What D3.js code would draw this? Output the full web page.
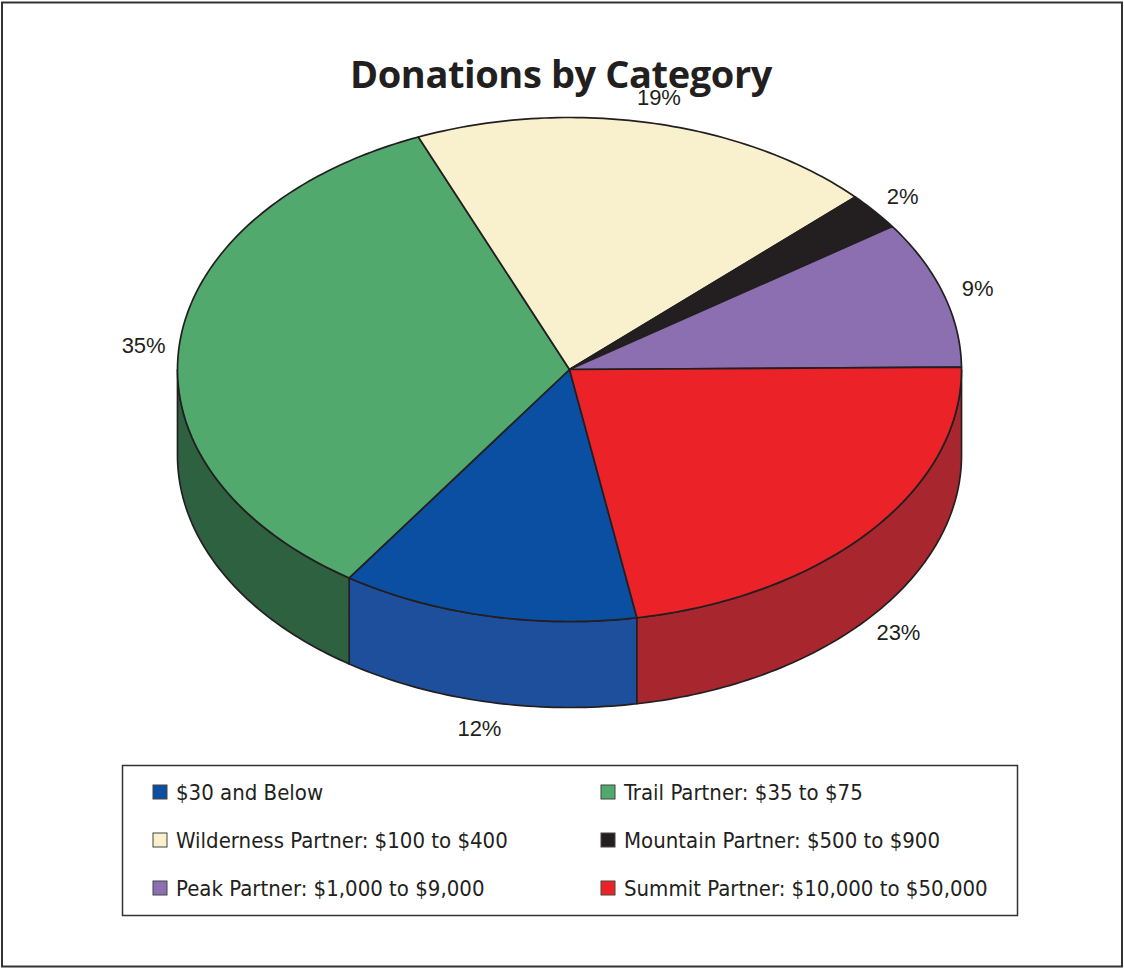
<!DOCTYPE html>
<html>
<head>
<meta charset="utf-8">
<script src="https://cdn.jsdelivr.net/npm/d3@7"></script>
<style>
  body { margin: 0; background: #fff; }
  svg { display: block; }
</style>
</head>
<body>
<div id="chart"></div>
<script>
const width = 1124
const height = 968

// data, in legend order
const categories = [
  '$30 and Below',
  'Trail Partner: $35 to $75',
  'Wilderness Partner: $100 to $400',
  'Mountain Partner: $500 to $900',
  'Peak Partner: $1,000 to $9,000',
  'Summit Partner: $10,000 to $50,000'
]
// printed percentages
const percents = [12, 35, 19, 2, 9, 23]
// slice sizes as drawn in the picture (the printed labels are rounded)
const sliceSizes = [12.25, 34.2, 19.3, 2.4, 9.45, 22.4]
const topColors = ['#0b4fa2', '#52a96d', '#f9f1cd', '#231f20', '#8b6fb1', '#ec2229']
const sideColors = ['#1d4f9c', '#2e6140', '#d9d2ad', '#111', '#6d5690', '#a8262e']

const cx = 569.5, cy = 369.5
const rx = 392, ry = 252
const depth = 86

const svg = d3.select('#chart').append('svg')
  .attr('width', width)
  .attr('height', height)

// frame
svg.append('rect')
  .attr('x', 2).attr('y', 2.5)
  .attr('width', 1120).attr('height', 964)
  .attr('fill', 'none')
  .attr('stroke', '#333')
  .attr('stroke-width', 2)

svg.append('text')
  .attr('x', 561).attr('y', 88)
  .attr('text-anchor', 'middle')
  .style('font-family', '"Open Sans", sans-serif')
  .style('font-weight', 700)
  .style('font-size', '38px')
  .style('letter-spacing', '-0.4px')
  .attr('fill', '#231f20')
  .text('Donations by Category')

// pie angles (d3 measures clockwise from 12 o'clock)
const start = 170.1 * Math.PI / 180
const pie = d3.pie().sort(null)
  .startAngle(start)
  .endAngle(start + 2 * Math.PI)
const arcs = pie(sliceSizes)

// parametric ellipse angle, clockwise from 3 o'clock
const px = a => cx + rx * Math.cos(a - Math.PI / 2)
const py = a => cy + ry * Math.sin(a - Math.PI / 2)

function ellipseArc (a0, a1, dy, steps) {
  const pts = []
  for (let i = 0; i <= steps; i++) {
    const a = a0 + (a1 - a0) * i / steps
    pts.push([px(a), py(a) + dy])
  }
  return pts
}

const line = d3.line()
const g = svg.append('g')
  .attr('stroke', '#231f20')
  .attr('stroke-width', 1.7)
  .attr('stroke-linejoin', 'round')

// side walls, only on the front half of the ellipse
arcs.forEach((d, i) => {
  const segs = []
  for (let k = -1; k <= 2; k++) {
    const lo = Math.PI / 2 + k * 2 * Math.PI
    const hi = 3 * Math.PI / 2 + k * 2 * Math.PI
    const a0 = Math.max(d.startAngle, lo)
    const a1 = Math.min(d.endAngle, hi)
    if (a1 > a0) segs.push([a0, a1])
  }
  segs.forEach(([a0, a1]) => {
    const n = Math.max(4, Math.ceil((a1 - a0) * 60))
    const top = ellipseArc(a0, a1, 0, n)
    const bot = ellipseArc(a1, a0, depth, n)
    g.append('path')
      .attr('d', line(top.concat(bot)) + 'Z')
      .attr('fill', sideColors[i])
  })
})

// top faces
arcs.forEach((d, i) => {
  const n = Math.max(4, Math.ceil((d.endAngle - d.startAngle) * 60))
  const pts = [[cx, cy]].concat(ellipseArc(d.startAngle, d.endAngle, 0, n))
  g.append('path')
    .attr('d', line(pts) + 'Z')
    .attr('fill', topColors[i])
})

// percentage labels
const offX = 36, offY = 30
svg.append('g').selectAll('text')
  .data(arcs)
  .join('text')
  .attr('x', d => {
    const a = (d.startAngle + d.endAngle) / 2 - Math.PI / 2
    return cx + (rx + offX) * Math.cos(a)
  })
  .attr('y', d => {
    const a = (d.startAngle + d.endAngle) / 2 - Math.PI / 2
    const s = Math.sin(a)
    return cy + 4 + (ry + offY) * s + (s > 0 ? depth - 7 : 0)
  })
  .attr('text-anchor', 'middle')
  .attr('dominant-baseline', 'central')
  .style('font-family', '"Liberation Sans", Arial, sans-serif')
  .style('font-size', '22px')
  .attr('fill', '#231f20')
  .text((d, i) => percents[i] + '%')

// legend
svg.append('rect')
  .attr('x', 122.5).attr('y', 765.5)
  .attr('width', 895).attr('height', 150)
  .attr('fill', 'none')
  .attr('stroke', '#333')
  .attr('stroke-width', 1.5)

const legend = svg.append('g').selectAll('g')
  .data(categories)
  .join('g')
  .attr('transform', (d, i) => `translate(${i % 2 ? 601 : 153},${792 + Math.floor(i / 2) * 48})`)

legend.append('rect')
  .attr('x', 0).attr('y', -7)
  .attr('width', 14).attr('height', 14)
  .attr('fill', (d, i) => topColors[i])
  .attr('stroke', '#444')
  .attr('stroke-width', 1)

legend.append('text')
  .attr('x', 23).attr('y', 0)
  .attr('dominant-baseline', 'central')
  .style('font-family', '"DejaVu Sans Condensed", "DejaVu Sans", sans-serif')
  .style('font-stretch', 'condensed')
  .style('font-size', '22px')
  .attr('fill', '#231f20')
  .text(d => d)
</script>
</body>
</html>
